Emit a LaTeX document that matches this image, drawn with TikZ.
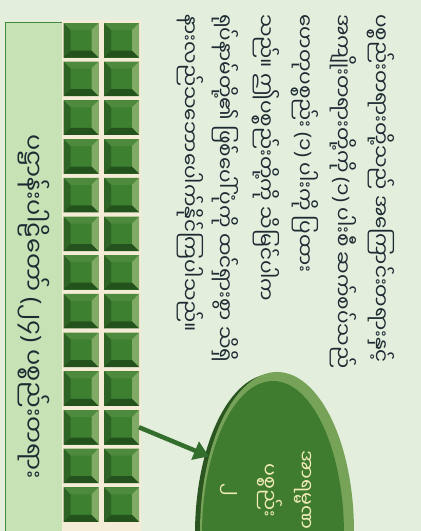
\documentclass[tikz,border=0pt]{standalone}
\usepackage{fontspec}
\newfontfamily\mmfont[Script=Myanmar]{Noto Sans Myanmar UI}
\newfontfamily\pfont{Noto Sans}
\newcommand{\lpar}{{\pfont(}}
\newcommand{\rpar}{{\pfont)}}
\usetikzlibrary{shapes.geometric,arrows.meta}
\definecolor{bg}{HTML}{E3EEDD}
\definecolor{barfill}{HTML}{C7E3B5}
\definecolor{barline}{HTML}{3F8A3C}
\definecolor{gapc}{HTML}{F4ECD6}
\definecolor{sqc}{HTML}{3C8030}
\definecolor{sqtop}{HTML}{4E8A3D}
\definecolor{sqleft}{HTML}{2D6324}
\definecolor{sqright}{HTML}{82AA67}
\definecolor{sqbot}{HTML}{24521C}
\definecolor{arrowc}{HTML}{336E2C}
\definecolor{ellshadow}{HTML}{2A5520}
\definecolor{ellrim}{HTML}{76A358}
\definecolor{ellmain}{HTML}{3F7C30}
\definecolor{creamtext}{HTML}{F2ECB8}
\definecolor{inktext}{HTML}{1E2B33}
\newcommand{\bw}{7pt}
\begin{document}
\begin{tikzpicture}[x=1pt,y=-1pt,
  sq/.style={minimum width=35pt, minimum height=34.5pt, inner sep=0pt, outer sep=0pt,
    path picture={
      \path (path picture bounding box.south west) coordinate (bl)
            (path picture bounding box.north east) coordinate (tr)
            (path picture bounding box.north west) coordinate (tl)
            (path picture bounding box.south east) coordinate (br);
      \fill[sqc] (bl) rectangle (tr);
      \fill[sqtop] (tl) -- (tr) -- ([shift={(-\bw,-\bw)}]tr) -- ([shift={(\bw,-\bw)}]tl) -- cycle;
      \fill[sqleft] (tl) -- (bl) -- ([shift={(\bw,\bw)}]bl) -- ([shift={(\bw,-\bw)}]tl) -- cycle;
      \fill[sqright] (tr) -- (br) -- ([shift={(-\bw,\bw)}]br) -- ([shift={(-\bw,-\bw)}]tr) -- cycle;
      \fill[sqbot] (bl) -- (br) -- ([shift={(-\bw,\bw)}]br) -- ([shift={(\bw,\bw)}]bl) -- cycle;
    }},
  ptext/.style={rotate=-90, anchor=west, inner sep=0pt, text=inktext,
    font=\mmfont\fontsize{20}{24}\selectfont},
  arrowst/.style={draw=arrowc, line width=4.5pt,
    -{Triangle[length=15pt,width=19pt]}}
]
\useasboundingbox (0,0) rectangle (421,531);
\clip (0,0) rectangle (421,531);
\fill[bg] (0,0) rectangle (421,531);

% title bar
\node[draw=barline, fill=barfill, line width=1.2pt, anchor=north west,
  minimum width=57pt, minimum height=525pt, inner sep=0pt] (bar) at (5,22) {};
\node[rotate=-90, text=inktext, font=\mmfont\fontsize{24}{26}\selectfont]
  (title) at (34,307) {ပဋ္ဌာန်းပါဠိတော် \lpar၂၄\rpar\ ပစ္စည်းတရား};

% cream backing and squares
\fill[gapc] (62,20) rectangle (141,531);
\foreach \i in {1,...,13}{
  \node[sq, anchor=north west] (s-1-\i) at (63.5, {23+38.7*(\i-1)}) {};
  \node[sq, anchor=north west] (s-2-\i) at (104, {23+38.7*(\i-1)}) {};
}

% ellipse
\fill[ellshadow] (272,534) ellipse [x radius=77pt, y radius=160pt];
\node[ellipse, fill=ellrim, minimum width=154pt, minimum height=320pt,
  inner sep=0pt] (ell) at (277,532) {};
\fill[ellmain] (273,535) ellipse [x radius=71pt, y radius=154pt];
\node[rotate=-90, align=center, text=creamtext,
  font=\mmfont\fontsize{19}{37}\selectfont] (elltxt) at (266,490)
  {အာရမ္မဏ\\ပစ္စည်း\\၂};

% arrow
\draw[arrowst] (s-2-11.east) -- (ell.132);

% paragraph
\node[ptext] (p1) at (381,14) {ပစ္စည်းတရားတို့သည် အကြောင်းတရားနှင့်};
\node[ptext] (p2) at (343,14) {အကျိုးတရားတို့ကို \lpar၁\rpar\ ပါးစီ ဆက်စပ်သည်};
\node[ptext] (p3) at (305,14) {ဟေတုပစ္စည်း \lpar၁\rpar\ ပါးကို ပြထား};
\node[ptext] (p4) at (266,14) {သည်။ ဤပစ္စည်းတို့ကို သိမြင်ပါက};
\node[ptext] (p5) at (225,14) {ရုပ်နာမ်တို့၏ ဖြစ်ပေါ်ပုံကို ထင်ရှားစွာ သိရှိ};
\node[ptext] (p6) at (190,14) {နားလည်သဘောပေါက်နိုင်ကြပါသည်။};
\end{tikzpicture}
\end{document}
